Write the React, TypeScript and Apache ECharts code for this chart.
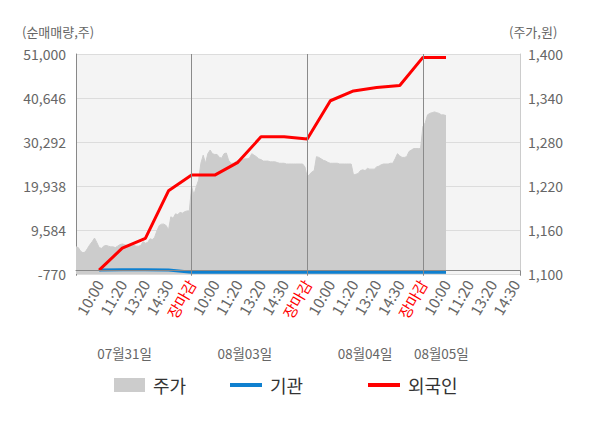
import React, { useEffect, useRef } from 'react';
import * as echarts from 'echarts';

// ---- data ----
const timeLabels = ['10:00', '11:20', '13:20', '14:30', '장마감'];
const dateLabels = ['07월31일', '08월03일', '08월04일', '08월05일'];
const dateLabelIndex = [21, 73, 125, 158];
const dayBoundaryIndex = [50, 100, 150];
const stepsPerDay = 50;
const stepsPerLabel = 10;
const totalSteps = 192; // 3 full days + partial last day
const currentIndex = 160;

const leftMin = -770;
const leftMax = 51000;
const leftInterval = 10354;
const rightMin = 1100;
const rightMax = 1400;
const rightInterval = 60;

// 주가 (price), one value per step from 07/31 open to 08/05 10:00
const priceDay1 = [
  1137, 1136, 1131, 1129, 1130, 1135, 1140, 1144, 1149, 1143,
  1136, 1135, 1138, 1139, 1138, 1137, 1137, 1136, 1138, 1140,
  1141, 1140, 1139, 1138, 1138, 1139, 1138, 1138, 1139, 1144,
  1142, 1143, 1148, 1147, 1150, 1159, 1166, 1168, 1168, 1166,
  1160, 1178, 1176, 1182, 1181, 1184, 1183, 1185, 1186, 1186,
];
const priceDay2 = [
  1219, 1208, 1219, 1228, 1251, 1262, 1251, 1264, 1269, 1264,
  1263, 1263, 1259, 1258, 1264, 1265, 1255, 1251, 1251, 1253,
  1255, 1256, 1256, 1257, 1257, 1258, 1264, 1262, 1260, 1257,
  1256, 1254, 1254, 1254, 1253, 1253, 1253, 1252, 1251, 1251,
  1251, 1250, 1250, 1250, 1250, 1250, 1250, 1250, 1250, 1246,
];
const priceDay3 = [
  1232, 1236, 1239, 1241, 1260, 1259, 1257, 1255, 1254, 1252,
  1251, 1251, 1251, 1251, 1250, 1250, 1250, 1250, 1250, 1250,
  1235, 1236, 1237, 1241, 1242, 1241, 1244, 1243, 1243, 1243,
  1246, 1247, 1249, 1250, 1250, 1250, 1251, 1251, 1257, 1264,
  1261, 1259, 1259, 1260, 1267, 1269, 1271, 1271, 1271, 1271,
];
const priceDay4 = [1301, 1306, 1317, 1319, 1320, 1321, 1320, 1319, 1317, 1317, 1316];

// 기관 / 외국인 순매매량, [step index, value]
const institution = [
  [10, 200], [20, 220], [30, 220], [40, 180], [50, -350], [60, -360],
  [70, -360], [80, -370], [90, -370], [100, -370], [110, -370], [120, -370],
  [130, -370], [140, -370], [150, -370], [160, -370],
];
const foreign = [
  [10, 150], [20, 5300], [30, 7600], [40, 18800], [50, 22500], [60, 22500],
  [70, 25500], [80, 31500], [90, 31500], [100, 31000], [110, 40000], [120, 42300],
  [130, 43100], [140, 43600], [150, 50200], [160, 50200],
];

const FONT = "'Noto Sans CJK KR', 'Noto Sans', sans-serif";

function buildCategories(): string[] {
  const cats: string[] = [];
  for (let i = 0; i <= totalSteps; i++) {
    if (i > 0 && i % stepsPerLabel === 0) {
      const r = i % stepsPerDay;
      cats.push(r === 0 ? timeLabels[4] : timeLabels[r / stepsPerLabel - 1]);
    } else {
      cats.push('s' + i);
    }
  }
  return cats;
}

function buildDateCategories(): string[] {
  const cats: string[] = [];
  for (let i = 0; i <= totalSteps; i++) {
    const k = dateLabelIndex.indexOf(i);
    cats.push(k >= 0 ? dateLabels[k] : 'd' + i);
  }
  return cats;
}

export default function App() {
  const ref = useRef<HTMLDivElement>(null);

  useEffect(() => {
    if (!ref.current) return;
    const chart = echarts.init(ref.current, undefined, { renderer: 'svg' });
    const cats = buildCategories();
    const dateCats = buildDateCategories();
    const price = [...priceDay1, ...priceDay2, ...priceDay3, ...priceDay4];

    const legendText = { fontSize: 18, color: '#333', fontFamily: FONT, padding: [0, 0, 0, 3] };

    chart.setOption({
      animation: false,
      textStyle: { fontFamily: FONT },
      grid: {
        left: 76,
        right: 80,
        top: 54,
        bottom: 154,
        show: true,
        backgroundColor: '#f4f4f4',
        borderWidth: 0,
      },
      graphic: [
        {
          type: 'text',
          left: 22,
          top: 25,
          style: { text: '(순매매량,주)', fill: '#666', fontSize: 13, fontFamily: FONT },
        },
        {
          type: 'text',
          left: 509,
          top: 25,
          style: { text: '(주가,원)', fill: '#666', fontSize: 13, fontFamily: FONT },
        },
      ],
      legend: [
        {
          left: 114,
          top: 376,
          padding: 0,
          data: ['주가'],
          icon: 'rect',
          itemWidth: 31,
          itemHeight: 14,
          textStyle: legendText,
        },
        {
          left: 230,
          top: 376,
          padding: 0,
          data: ['기관'],
          icon: 'rect',
          itemWidth: 32,
          itemHeight: 4,
          textStyle: legendText,
        },
        {
          left: 368,
          top: 376,
          padding: 0,
          data: ['외국인'],
          icon: 'rect',
          itemWidth: 32,
          itemHeight: 4,
          textStyle: legendText,
        },
      ],
      xAxis: [
        {
          type: 'category',
          data: cats,
          boundaryGap: false,
          axisLine: { lineStyle: { color: '#888' } },
          axisTick: {
            show: true,
            length: 5,
            lineStyle: { color: '#888' },
            interval: (index: number) => index % stepsPerDay === 0 || index === totalSteps,
          },
          axisLabel: {
            interval: (index: number) => index > 0 && index % stepsPerLabel === 0,
            rotate: 60,
            fontSize: 15,
            margin: 7,
            fontFamily: FONT,
            color: (value: string, index: number) =>
              value === timeLabels[4] ? '#ff0000' : index === currentIndex ? '#333' : '#666',
          },
          splitLine: { show: false },
        },
        {
          type: 'category',
          data: dateCats,
          boundaryGap: false,
          position: 'bottom',
          offset: 64,
          axisLine: { show: false },
          axisTick: { show: false },
          splitLine: { show: false },
          axisLabel: {
            interval: (index: number) => dateLabelIndex.indexOf(index) >= 0,
            fontSize: 13.5,
            color: '#666',
            margin: 8,
            fontFamily: FONT,
          },
        },
      ],
      yAxis: [
        {
          type: 'value',
          position: 'left',
          min: leftMin,
          max: leftMax,
          interval: leftInterval,
          axisLine: { show: true, lineStyle: { color: '#888' } },
          axisTick: { show: false },
          axisLabel: { color: '#666', fontSize: 14, margin: 10, fontFamily: FONT },
          splitLine: { show: true, lineStyle: { color: '#dcdcdc' } },
        },
        {
          type: 'value',
          position: 'right',
          min: rightMin,
          max: rightMax,
          interval: rightInterval,
          axisLine: { show: true, lineStyle: { color: '#ccc' } },
          axisTick: { show: false },
          axisLabel: { color: '#666', fontSize: 14, margin: 8, fontFamily: FONT },
          splitLine: { show: false },
        },
      ],
      series: [
        {
          name: '주가',
          type: 'line',
          xAxisIndex: 0,
          yAxisIndex: 1,
          data: price,
          color: '#cccccc',
          symbol: 'none',
          lineStyle: { width: 1, color: '#cccccc' },
          areaStyle: { color: '#cccccc', opacity: 1, origin: 'start' },
          z: 1,
          markLine: {
            silent: true,
            symbol: 'none',
            label: { show: false },
            lineStyle: { color: '#8a8a8a', width: 1, type: 'solid' },
            data: dayBoundaryIndex.map((i) => ({ xAxis: i })),
          },
        },
        {
          name: '기관',
          type: 'line',
          xAxisIndex: 0,
          yAxisIndex: 0,
          data: institution,
          color: '#0f80cf',
          symbol: 'none',
          lineStyle: { width: 3, color: '#0f80cf' },
          z: 3,
          markLine: {
            silent: true,
            symbol: 'none',
            label: { show: false },
            lineStyle: { color: '#888', width: 1, type: 'solid' },
            data: [{ yAxis: 0 }],
          },
        },
        {
          name: '외국인',
          type: 'line',
          xAxisIndex: 0,
          yAxisIndex: 0,
          data: foreign,
          color: '#ff0000',
          symbol: 'none',
          lineStyle: { width: 3, color: '#ff0000' },
          z: 4,
        },
      ],
    });

    return () => chart.dispose();
  }, []);

  return (
    <div
      ref={ref}
      style={{ position: 'absolute', left: 0, top: 0, width: 600, height: 428 }}
    />
  );
}
